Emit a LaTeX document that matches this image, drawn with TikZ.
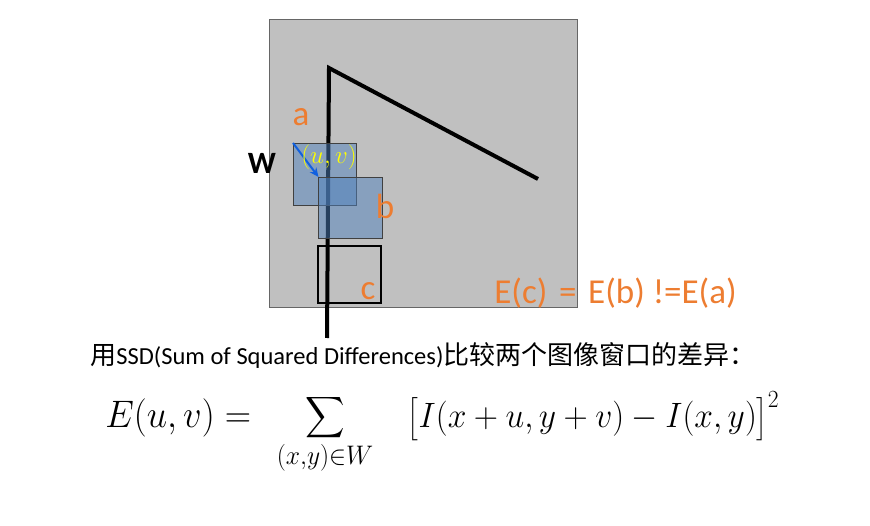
\RequirePackage{fix-cm}
\documentclass[tikz,border=0pt]{standalone}
\usepackage{amsmath}
\usepackage{mathtools}
\usepackage{fontspec}
\setsansfont{Carlito}
\newfontfamily\cjk{Noto Sans CJK SC}
\usetikzlibrary{arrows.meta}
\definecolor{imggray}{RGB}{192,192,192}
\definecolor{winblue}{RGB}{79,129,189}
\definecolor{lblorange}{RGB}{237,125,49}
\definecolor{arrblue}{RGB}{16,96,224}
\tikzset{every picture/.style={line width=0.75pt}}
\tikzset{
  win/.style={draw=black!75, line width=0.75pt, fill=winblue, fill opacity=0.5},
  lbl/.style={text=lblorange, font=\sffamily\fontsize{35}{40}\selectfont, inner sep=0pt}
}

\begin{document}
\begin{tikzpicture}[x=1pt,y=1pt,yscale=-1,xscale=1]
\useasboundingbox (0,0) rectangle (870,526);

%Shape: Square (image)
\draw [draw=black!60, fill=imggray] (269,19) rectangle (577,307);
%Edge
\coordinate (corner) at (329,68);
\draw [line width=4pt, line join=miter] (327,338) -- (corner) -- (538,179);

%Windows
\coordinate (wa) at (293,143);
\coordinate (wb) at (318.5,177);
\draw [win] (wa) rectangle (356.5,205);
\draw [win] (wb) rectangle (382.5,238);
\draw [line width=2.6pt] (318,246) rectangle (381,303);
%Shift arrow
\draw [arrblue, line width=2pt, -{Stealth[length=9pt,width=8pt]}] (wa) -- (wb);

% Text Node
\node [lbl] (la) at (301,117) {a};
\node [lbl] (lb) at (385,206) {b};
\node [lbl] (lc) at (368,291) {c};
\node [font=\sffamily\bfseries\fontsize{31}{36}\selectfont, inner sep=0pt] (lw) at (262,163) {W};
\node [text={rgb,255:red,255;green,255;blue,0}, font=\fontsize{25}{28}\selectfont, inner sep=0pt] (uv) at (329,157) {$(u,v)$};
\node [lbl, anchor=west] (eq) at (494,293) {E(c)\,\,=\,\,E(b) !=E(a)};
% Text Node
\node [anchor=base west, inner sep=0pt] (cap) at (90,365)
  {\fontsize{26}{30}\selectfont\cjk 用\fontsize{24.5}{30}\selectfont\sffamily SSD(Sum of Squared Differences)\fontsize{26}{30}\selectfont\cjk 比较两个图像窗口的差异：};
% Text Node
\node [anchor=base west, inner sep=0pt, font=\fontsize{36.5}{42}\selectfont] (ssd) at (105,428)
  {\scalebox{1}[1.05]{$\displaystyle E(u,v) =\hspace{44pt}\mathop{\scalebox{1.1}{$\displaystyle\sum$}}\limits_{\mathclap{(x,y)\in W}}\hspace{57pt}\scalebox{0.92}{$\displaystyle\bigl[I(x+u,y+v)-I(x,y)\bigr]^2$}$}};

\end{tikzpicture}
\end{document}
